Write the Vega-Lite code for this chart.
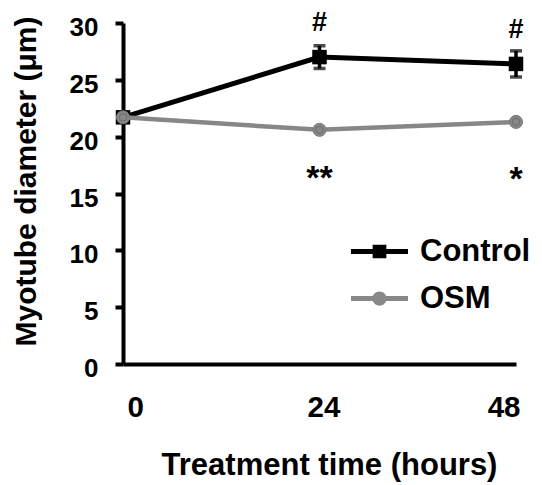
{
  "$schema": "https://vega.github.io/schema/vega-lite/v6.json",
  "width": 393,
  "height": 341,
  "autosize": {"type": "none"},
  "padding": {"left": 123, "top": 23, "right": 26, "bottom": 121},
  "background": "white",
  "datasets": {
    "points": [
      {"series": "Control", "time": 0, "value": 21.7, "err": 0.3},
      {"series": "Control", "time": 24, "value": 27.0, "err": 1.0},
      {"series": "Control", "time": 48, "value": 26.4, "err": 1.15},
      {"series": "OSM", "time": 0, "value": 21.7, "err": 0.3},
      {"series": "OSM", "time": 24, "value": 20.6, "err": 0.3},
      {"series": "OSM", "time": 48, "value": 21.3, "err": 0.3}
    ],
    "notes": [
      {"time": 24, "value": 29.3, "label": "#", "kind": "hash"},
      {"time": 48, "value": 28.65, "label": "#", "kind": "hash"},
      {"time": 24, "value": 15.4, "label": "**", "kind": "star"},
      {"time": 48, "value": 15.3, "label": "*", "kind": "star"}
    ]
  },
  "encoding": {
    "x": {
      "field": "time",
      "type": "quantitative",
      "scale": {"domain": [0, 48], "nice": false, "zero": false},
      "axis": {
        "values": [0, 24, 48],
        "title": "Treatment time (hours)",
        "ticks": false,
        "tickSize": 0,
        "labelFontSize": 29.5,
        "labelPadding": 29,
        "labelOffset": 4,
        "labelBaseline": "top",
        "titleFontSize": 31,
        "titleX": 206,
        "titleY": 110,
        "titleBaseline": "alphabetic",
        "titleAlign": "center"
      }
    },
    "y": {
      "field": "value",
      "type": "quantitative",
      "scale": {"domain": [0, 30], "nice": false},
      "axis": {
        "values": [0, 5, 10, 15, 20, 25, 30],
        "title": "Myotube diameter (μm)",
        "tickSize": 8,
        "labelFontSize": 26,
        "labelPadding": 17,
        "labelOffset": 4.5,
        "labelBaseline": "middle",
        "titleFontSize": 30,
        "titleAngle": -90,
        "titleX": -97,
        "titleY": 158,
        "titleAlign": "center",
        "titleBaseline": "middle"
      }
    }
  },
  "layer": [
    {
      "data": {"name": "points"},
      "transform": [{"filter": "datum.series === 'Control'"}],
      "mark": {"type": "errorbar", "ticks": {"size": 12, "thickness": 3.5, "color": "black"}, "rule": {"strokeWidth": 3.5, "color": "black"}, "color": "black"},
      "encoding": {"yError": {"field": "err"}}
    },
    {
      "data": {"name": "points"},
      "transform": [{"filter": "datum.series === 'Control'"}],
      "mark": {"type": "line", "color": "black", "strokeWidth": 5},
      "encoding": {}
    },
    {
      "data": {"name": "points"},
      "transform": [{"filter": "datum.series === 'Control'"}],
      "mark": {"type": "square", "color": "black", "size": 210, "opacity": 1},
      "encoding": {}
    },
    {
      "data": {"name": "points"},
      "transform": [{"filter": "datum.series === 'OSM'"}],
      "mark": {"type": "errorbar", "ticks": {"size": 10, "thickness": 3, "color": "#858585"}, "rule": {"strokeWidth": 3, "color": "#858585"}, "color": "#858585"},
      "encoding": {"yError": {"field": "err"}}
    },
    {
      "data": {"name": "points"},
      "transform": [{"filter": "datum.series === 'OSM'"}],
      "mark": {"type": "line", "color": "#878787", "strokeWidth": 4.5},
      "encoding": {}
    },
    {
      "data": {"name": "points"},
      "transform": [{"filter": "datum.series === 'OSM'"}],
      "mark": {"type": "circle", "fill": "#888888", "stroke": "#7a7a7a", "strokeWidth": 1, "size": 170, "opacity": 1},
      "encoding": {}
    },
    {
      "data": {"name": "points"},
      "transform": [{"filter": "datum.series === 'OSM'"}],
      "mark": {"type": "point", "shape": "circle", "filled": false, "stroke": "#6c6c6c", "strokeWidth": 1, "size": 55, "opacity": 1},
      "encoding": {}
    },
    {
      "data": {"name": "points"},
      "mark": {"type": "point", "filled": true, "opacity": 0, "size": 3249},
      "encoding": {
        "color": {
          "field": "series",
          "type": "nominal",
          "scale": {"domain": ["Control", "OSM"], "range": ["#000000", "#888888"]},
          "legend": {
            "title": null,
            "orient": "none",
            "legendX": 228,
            "legendY": 200,
            "padding": 0,
            "symbolSize": 3249,
            "symbolOpacity": 1,
            "symbolStrokeWidth": 0,
            "labelFont": "Liberation Sans",
            "labelFontWeight": "bold",
            "labelFontSize": 31,
            "labelColor": "black",
            "labelOffset": 12,
            "rowPadding": 3
          }
        },
        "shape": {
          "field": "series",
          "type": "nominal",
          "scale": {
            "domain": ["Control", "OSM"],
            "range": [
              "M-1,-0.088H1V0.088H-1Z M-0.24,-0.24H0.24V0.24H-0.24Z",
              "M-1,-0.088H1V0.088H-1Z M-0.25,0A0.25,0.25 0 1,1 0.25,0A0.25,0.25 0 1,1 -0.25,0Z"
            ]
          },
          "legend": {
            "title": null,
            "orient": "none",
            "legendX": 228,
            "legendY": 200,
            "padding": 0,
            "symbolSize": 3249,
            "symbolOpacity": 1,
            "symbolStrokeWidth": 0,
            "labelFont": "Liberation Sans",
            "labelFontWeight": "bold",
            "labelFontSize": 31,
            "labelColor": "black",
            "labelOffset": 12,
            "rowPadding": 3
          }
        }
      }
    },
    {
      "data": {"name": "notes"},
      "transform": [{"filter": "datum.kind === 'hash'"}],
      "mark": {"type": "text", "font": "Liberation Sans", "fontWeight": "bold", "fontSize": 27, "align": "center", "baseline": "alphabetic", "color": "black"},
      "encoding": {"text": {"field": "label"}}
    },
    {
      "data": {"name": "notes"},
      "transform": [{"filter": "datum.kind === 'star'"}],
      "mark": {"type": "text", "font": "Liberation Sans", "fontWeight": "bold", "fontSize": 34, "align": "center", "baseline": "alphabetic", "color": "black"},
      "encoding": {"text": {"field": "label"}}
    }
  ],
  "config": {
    "view": {"stroke": null},
    "font": "Liberation Sans",
    "axis": {
      "grid": false,
      "domainColor": "black",
      "domainWidth": 4,
      "tickColor": "black",
      "tickWidth": 4,
      "labelColor": "black",
      "labelFont": "Liberation Sans",
      "labelFontWeight": "bold",
      "titleColor": "black",
      "titleFont": "Liberation Sans",
      "titleFontWeight": "bold"
    }
  }
}
